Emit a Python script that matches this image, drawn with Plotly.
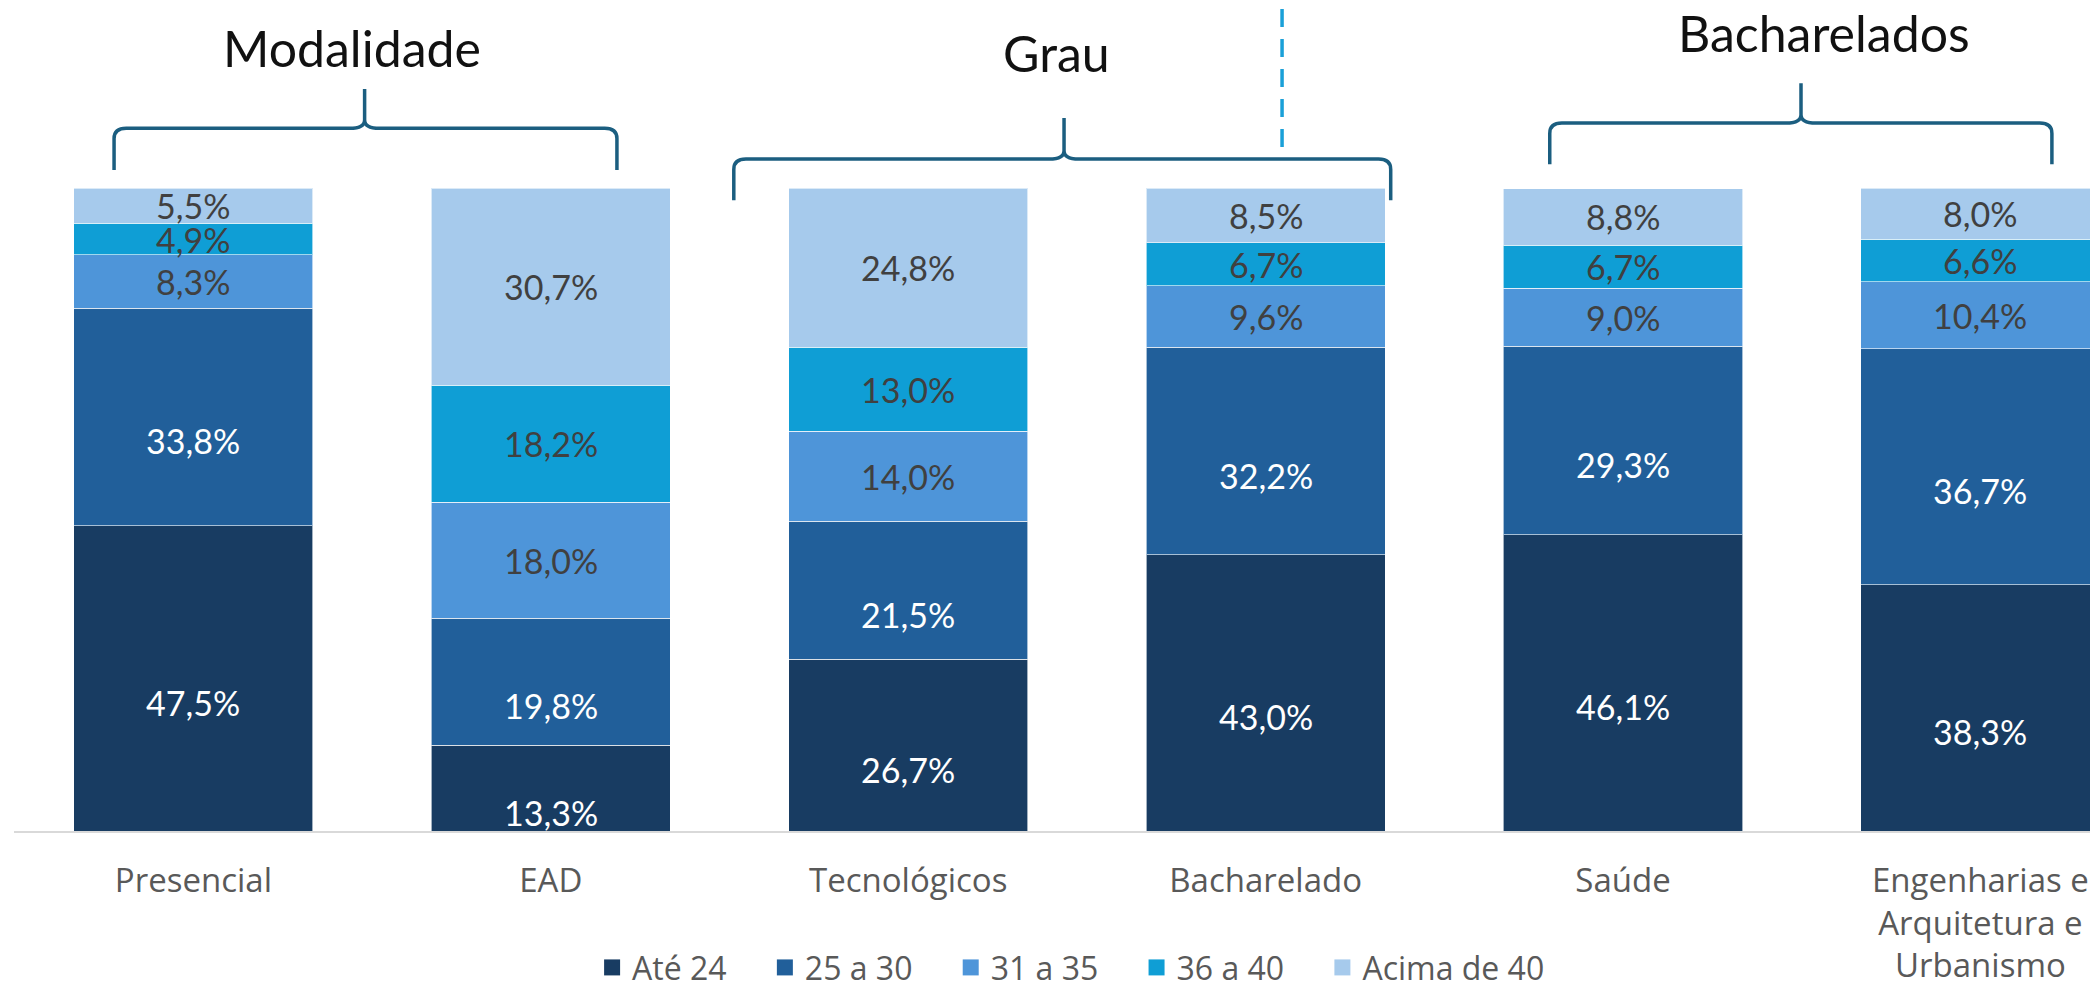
import plotly.graph_objects as go

categorias = ["Presencial", "EAD", "Tecnológicos", "Bacharelado", "Saúde",
              "Engenharias e<br>Arquitetura e<br>Urbanismo"]
faixas = ["Até 24", "25 a 30", "31 a 35", "36 a 40", "Acima de 40"]
ate_24 = [47.5, 13.3, 26.7, 43.0, 46.1, 38.3]
de_25_a_30 = [33.8, 19.8, 21.5, 32.2, 29.3, 36.7]
de_31_a_35 = [8.3, 18.0, 14.0, 9.6, 9.0, 10.4]
de_36_a_40 = [4.9, 18.2, 13.0, 6.7, 6.7, 6.6]
acima_40 = [5.5, 30.7, 24.8, 8.5, 8.8, 8.0]
grupos = ["Modalidade", "Grau", "Bacharelados"]

series = [ate_24, de_25_a_30, de_31_a_35, de_36_a_40, acima_40]
cores = ["#183c62", "#215f9a", "#4e95d9", "#0f9ed5", "#a6caec"]
cor_texto = ["white", "white", "#404040", "#404040", "#404040"]
desloc_texto = [-24, -24, 0, 0, 0]

x = list(range(len(categorias)))
fig = go.Figure()

base = [0] * len(x)
annotations = []
for nome, vals, cor, ct, dy in zip(faixas, series, cores, cor_texto, desloc_texto):
    fig.add_trace(go.Bar(x=x, y=vals, name=nome, marker_color=cor, width=0.669,
                         marker_line=dict(color="rgba(255,255,255,0.6)", width=1),
                         showlegend=False, hoverinfo="skip"))
    for i, v in enumerate(vals):
        annotations.append(dict(x=i, y=base[i] + v / 2, xref="x", yref="y",
                                text=f"{v:.1f}%".replace(".", ","), showarrow=False,
                                yshift=dy, font=dict(family="Lato", size=34, color=ct)))
        base[i] += v
    # legend entry with bigger square (nbsp padding = gap between entries)
    fig.add_trace(go.Scatter(x=[None], y=[None], mode="markers",
                             name=nome + "\u00a0" * 4,
                             marker=dict(symbol="square", size=16, color=cor)))

# group titles and braces
titulos_pos = [(0.443, 121.8), (2.416, 121.0), (4.562, 124.1)]
for g, (tx, ty) in zip(grupos, titulos_pos):
    annotations.append(dict(x=tx, y=ty, xref="x", yref="y", text=g, showarrow=False,
                            font=dict(family="Lato", size=50, color="#111111")))


def chave(x0, xm, x1, yb, yh, yt):
    cx, cy, tx, ty = 0.034, 1.6, 0.042, 1.3
    return (f"M {x0},{yb} L {x0},{yh - cy} Q {x0},{yh} {x0 + cx},{yh} "
            f"L {xm - tx},{yh} Q {xm},{yh} {xm},{yh + ty} L {xm},{yt} "
            f"M {xm},{yh + ty} Q {xm},{yh} {xm + tx},{yh} "
            f"L {x1 - cx},{yh} Q {x1},{yh} {x1},{yh - cy} L {x1},{yb}")


chaves = [(-0.222, 0.479, 1.185, 102.8, 109.3, 115.4),
          (1.512, 2.436, 3.350, 98.1, 104.5, 110.9),
          (3.795, 4.498, 5.200, 103.7, 110.1, 116.3)]
shapes = [dict(type="path", path=chave(*c), xref="x", yref="y",
               line=dict(color="#1b5e80", width=3.5)) for c in chaves]
shapes.append(dict(type="line", x0=3.046, x1=3.046, y0=106.4, y1=128.0, xref="x", yref="y",
                   line=dict(color="#1aa0d8", width=3.5, dash="18px,12px")))

fig.update_layout(
    width=2090, height=978,
    margin=dict(l=6, r=0, t=0, b=155, autoexpand=False),
    barmode="stack",
    plot_bgcolor="white", paper_bgcolor="white",
    annotations=annotations, shapes=shapes,
    legend=dict(orientation="h", x=0.2774, xanchor="left", y=-0.166, yanchor="middle",
                font=dict(family="Open Sans", size=32, color="#595959"),
                traceorder="normal", itemwidth=30),
    xaxis=dict(range=[-0.502, 5.329], tickvals=x, ticktext=categorias,
               tickfont=dict(family="Open Sans", size=33, color="#595959"),
               showline=True, linecolor="#d9d9d9", linewidth=2, showgrid=False,
               zeroline=False, ticks="", ticklabelstandoff=19, automargin=False),
    yaxis=dict(range=[0, 128.0], visible=False),
)

fig.write_html("out.html")
